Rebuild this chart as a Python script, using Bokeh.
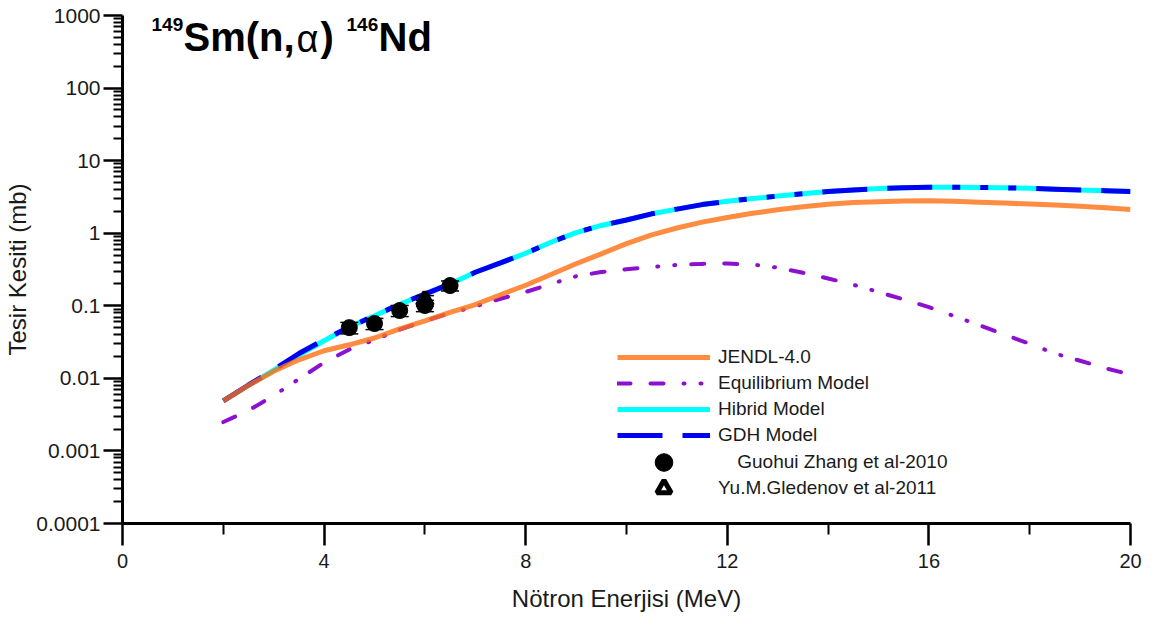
from bokeh.plotting import figure
from bokeh.models import (FixedTicker, PrintfTickFormatter, Legend, LegendItem,
                          Whisker, TeeHead, ColumnDataSource, Label)
from bokeh.embed import file_html
from bokeh.resources import INLINE

# ---------------- data ----------------
energy = [2.0, 2.5, 3.0, 3.5, 4.0, 4.5, 5.0, 5.5, 6.0, 6.5, 7.0, 7.5, 8.0, 8.5,
          9.0, 9.5, 10.0, 10.5, 11.0, 11.5, 12.0, 12.5, 13.0, 13.5, 14.0, 14.5,
          15.0, 15.5, 16.0, 16.5, 17.0, 17.5, 18.0, 18.5, 19.0, 19.5, 20.0]

jendl = [0.0049, 0.0080, 0.0125, 0.0180, 0.024, 0.029, 0.036, 0.048, 0.062, 0.081,
         0.104, 0.142, 0.192, 0.27, 0.38, 0.52, 0.72, 0.95, 1.18, 1.42, 1.65, 1.88,
         2.10, 2.32, 2.50, 2.64, 2.72, 2.78, 2.80, 2.76, 2.68, 2.60, 2.52, 2.44,
         2.35, 2.24, 2.12]

equilibrium = [0.0025, 0.0036, 0.0058, 0.0098, 0.0165, 0.025, 0.034, 0.047, 0.062,
               0.079, 0.098, 0.125, 0.155, 0.20, 0.255, 0.292, 0.318, 0.343, 0.365,
               0.378, 0.383, 0.370, 0.335, 0.285, 0.238, 0.195, 0.155, 0.122, 0.096,
               0.072, 0.054, 0.040, 0.030, 0.022, 0.0175, 0.0138, 0.0113]

hibrid = [0.0049, 0.0080, 0.0130, 0.021, 0.033, 0.051, 0.073, 0.105, 0.145, 0.20,
          0.29, 0.39, 0.53, 0.75, 1.02, 1.28, 1.52, 1.85, 2.15, 2.48, 2.75, 3.00,
          3.25, 3.50, 3.75, 3.95, 4.12, 4.23, 4.30, 4.31, 4.28, 4.22, 4.15, 4.05,
          3.95, 3.86, 3.76]

gdh = [0.0049, 0.0081, 0.0132, 0.022, 0.034, 0.051, 0.073, 0.105, 0.145, 0.20,
       0.29, 0.39, 0.53, 0.75, 1.02, 1.28, 1.52, 1.85, 2.15, 2.48, 2.75, 3.00,
       3.25, 3.50, 3.75, 3.95, 4.12, 4.23, 4.30, 4.31, 4.28, 4.22, 4.15, 4.05,
       3.95, 3.86, 3.76]

zhang_e = [4.5, 5.0, 5.5, 6.0, 6.5]
zhang_xs = [0.050, 0.057, 0.086, 0.101, 0.190]
zhang_err = [0.009, 0.010, 0.015, 0.018, 0.030]

gled_e = [6.0]
gled_xs = [0.118]
gled_err = [0.020]

x_ticks = [0, 4, 8, 12, 16, 20]
x_minor = [2, 6, 10, 14, 18]
y_ticks = [1e-4, 1e-3, 1e-2, 1e-1, 1, 10, 100, 1000]
y_minor = [m * 10.0 ** k for k in range(-4, 3) for m in range(2, 10)]

labels = ["JENDL-4.0", "Equilibrium Model", "Hibrid Model", "GDH Model",
          " Guohui Zhang et al-2010", "Yu.M.Gledenov et al-2011"]

FONT = "Liberation Sans"

# ---------------- figure ----------------
W, H = 1152, 621
L, R, T, B = 122, 22, 15, 98
p = figure(width=W, height=H, x_range=(0, 20), y_range=(1e-4, 1e3),
           y_axis_type="log", output_backend="svg", toolbar_location=None,
           min_border_left=L, min_border_right=R, min_border_top=T,
           min_border_bottom=B)
p.outline_line_color = None
p.xgrid.visible = False
p.ygrid.visible = False
p.background_fill_color = "white"
p.border_fill_color = "white"

for ax in (p.xaxis[0], p.yaxis[0]):
    ax.axis_line_width = 3
    ax.axis_line_color = "black"
    ax.major_tick_line_width = 2.5
    ax.minor_tick_line_width = 2
    ax.major_tick_line_color = "black"
    ax.minor_tick_line_color = "black"
    ax.major_tick_in = 0
    ax.minor_tick_in = 0
    ax.major_label_text_font = FONT
    ax.axis_label_text_font = FONT
    ax.axis_label_text_font_style = "normal"
    ax.major_label_text_color = "#1a1a1a"
    ax.axis_label_text_color = "#1a1a1a"

p.xaxis.ticker = FixedTicker(ticks=x_ticks, minor_ticks=x_minor)
p.xaxis.major_tick_out = 22
p.xaxis.minor_tick_out = 11
p.xaxis.major_label_text_font_size = "20px"
p.xaxis.major_label_standoff = 8
p.xaxis.axis_label = "Nötron Enerjisi (MeV)"
p.xaxis.axis_label_text_font_size = "24px"
p.xaxis.axis_label_standoff = 14

p.yaxis.ticker = FixedTicker(ticks=y_ticks, minor_ticks=y_minor)
p.yaxis.formatter = PrintfTickFormatter(format="%g")
p.yaxis.major_tick_out = 19
p.yaxis.minor_tick_out = 9
p.yaxis.major_label_text_font_size = "21px"
p.yaxis.major_label_standoff = 3
p.yaxis.axis_label = "Tesir Kesiti (mb)"
p.yaxis.axis_label_text_font_size = "24px"
p.yaxis.axis_label_standoff = 2

# ---------------- curves ----------------
r_eq = p.line(energy, equilibrium, line_color="#8B10D0", line_width=4,
              line_dash="13 20 13 20 1 16 1 16", line_cap="round")
r_hib = p.line(energy, hibrid, line_color="#00FFFF", line_width=5)
r_gdh = p.line(energy, gdh, line_color="#0000F0", line_width=5,
               line_dash="45 20 45 20 8 20 8 20 8 20")
r_jen = p.line(energy, jendl, line_color="#FF6F10", line_width=5, line_alpha=0.8)

# ---------------- experimental points ----------------
zsrc = ColumnDataSource(dict(x=zhang_e, y=zhang_xs,
                             lo=[v - e for v, e in zip(zhang_xs, zhang_err)],
                             hi=[v + e for v, e in zip(zhang_xs, zhang_err)]))
gsrc = ColumnDataSource(dict(x=gled_e, y=gled_xs,
                             lo=[v - e for v, e in zip(gled_xs, gled_err)],
                             hi=[v + e for v, e in zip(gled_xs, gled_err)]))

for src in (gsrc, zsrc):
    w = Whisker(source=src, base="x", lower="lo", upper="hi", dimension="height",
                line_color="black", line_width=1.5,
                upper_head=TeeHead(size=18, line_color="black", line_width=1.5),
                lower_head=TeeHead(size=18, line_color="black", line_width=1.5))
    w.level = "glyph"
    p.add_layout(w)

r_gled = p.scatter("x", "y", source=gsrc, marker="triangle", size=15,
                   fill_color="white", line_color="black", line_width=5)
r_zh = p.scatter("x", "y", source=zsrc, marker="circle", size=16,
                 fill_color="black", line_color="black")

# ---------------- legend (three blocks so that marker sizes match) ----------------
common = dict(orientation="vertical", glyph_width=93, spacing=0,
              label_standoff=8, padding=0, margin=0, border_line_alpha=0,
              background_fill_alpha=0, label_text_font=FONT,
              label_text_font_size="19px", label_text_color="#1a1a1a",
              label_height=20)
leg_lines = Legend(items=[LegendItem(label=labels[0], renderers=[r_jen]),
                          LegendItem(label=labels[1], renderers=[r_eq]),
                          LegendItem(label=labels[2], renderers=[r_hib]),
                          LegendItem(label=labels[3], renderers=[r_gdh])],
                   location=(495, 75), glyph_height=26, **common)
leg_zh = Legend(items=[LegendItem(label=labels[4], renderers=[r_zh])],
                location=(495, 39), glyph_height=44, **common)
leg_gl = Legend(items=[LegendItem(label=labels[5], renderers=[r_gled])],
                location=(495, 17), glyph_height=36, **common)
leg_zh.label_standoff = 22
for lg in (leg_lines, leg_zh, leg_gl):
    p.add_layout(lg)

# ---------------- title (reaction) ----------------
def dx(px):
    return (px - L) / (W - L - R) * 20.0

def dy(py):
    return 10 ** (3 - (py - T) / (H - T - B) * 7.0)

title_parts = [("149", 151, 24, "19px", "bold"),
               ("Sm(n,", 183, 36, "40px", "bold"),
               ("α", 296, 38, "38px", "normal"),
               (")", 320, 36, "40px", "bold"),
               ("146", 346, 24, "19px", "bold"),
               ("Nd", 378, 36, "40px", "bold")]
for txt, px, py, fs, st in title_parts:
    p.add_layout(Label(x=dx(px), y=dy(py), text=txt, text_font=FONT,
                       text_font_size=fs, text_font_style=st,
                       text_color="black", text_baseline="middle",
                       text_align="left"))

open("out.html", "w").write(file_html(p, INLINE))
